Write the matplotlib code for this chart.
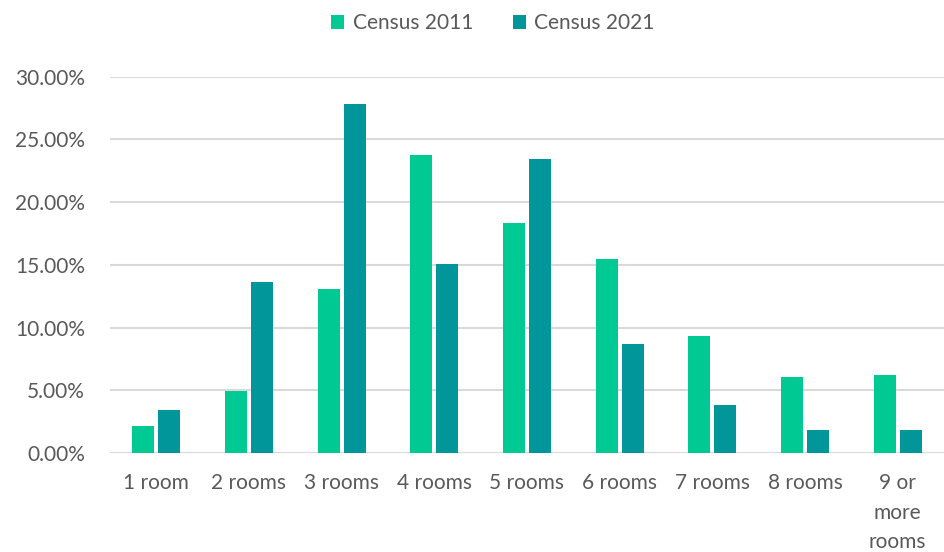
import matplotlib
matplotlib.use("Agg")
import matplotlib.pyplot as plt
import numpy as np
from matplotlib.ticker import FuncFormatter

categories = ["1 room", "2 rooms", "3 rooms", "4 rooms", "5 rooms", "6 rooms",
              "7 rooms", "8 rooms", "9 or\nmore\nrooms"]
census_2011 = [2.18, 4.96, 13.12, 23.75, 18.38, 15.44, 9.35, 6.08, 6.27]
census_2021 = [3.48, 13.65, 27.86, 15.11, 23.43, 8.71, 3.82, 1.83, 1.83]
series_names = ["Census 2011", "Census 2021"]
yticks = [0, 5, 10, 15, 20, 25, 30]

c2011 = "#00C994"
c2021 = "#00969A"
txt = "#595959"
font = "Lato"

fig = plt.figure(figsize=(9.44, 5.52), dpi=100)
ax = fig.add_axes([0.1165, 0.179, 0.8835, 0.682])

x = np.arange(len(categories))
w = 0.24
gap = 0.02
ax.bar(x - w / 2 - gap, census_2011, width=w, color=c2011, label=series_names[0], zorder=3)
ax.bar(x + w / 2 + gap, census_2021, width=w, color=c2021, label=series_names[1], zorder=3)

ax.set_xlim(-0.5, len(categories) - 0.5)
ax.set_ylim(0, 30)
ax.set_yticks(yticks)
ax.yaxis.set_major_formatter(FuncFormatter(lambda v, p: f"{v:.2f}%"))
ax.grid(axis="y", color="#D9D9D9", linewidth=1.5, zorder=0)
ax.set_axisbelow(True)
for s in ax.spines.values():
    s.set_visible(False)
ax.tick_params(axis="both", length=0, colors=txt, labelsize=15)
ax.tick_params(axis="y", pad=18)
ax.tick_params(axis="x", pad=14)
ax.set_xticks(x)
ax.set_xticklabels(categories, linespacing=1.62)
for lab in ax.get_xticklabels() + ax.get_yticklabels():
    lab.set_fontfamily(font)
    lab.set_color(txt)

leg = fig.legend(loc="upper center", bbox_to_anchor=(0.522, 1.01), ncol=2, frameon=False,
                 prop={"family": font, "size": 15}, handlelength=0.65, handleheight=0.65,
                 handletextpad=0.4, columnspacing=1.9)
for t in leg.get_texts():
    t.set_color(txt)

fig.savefig("out.png", dpi=100)
